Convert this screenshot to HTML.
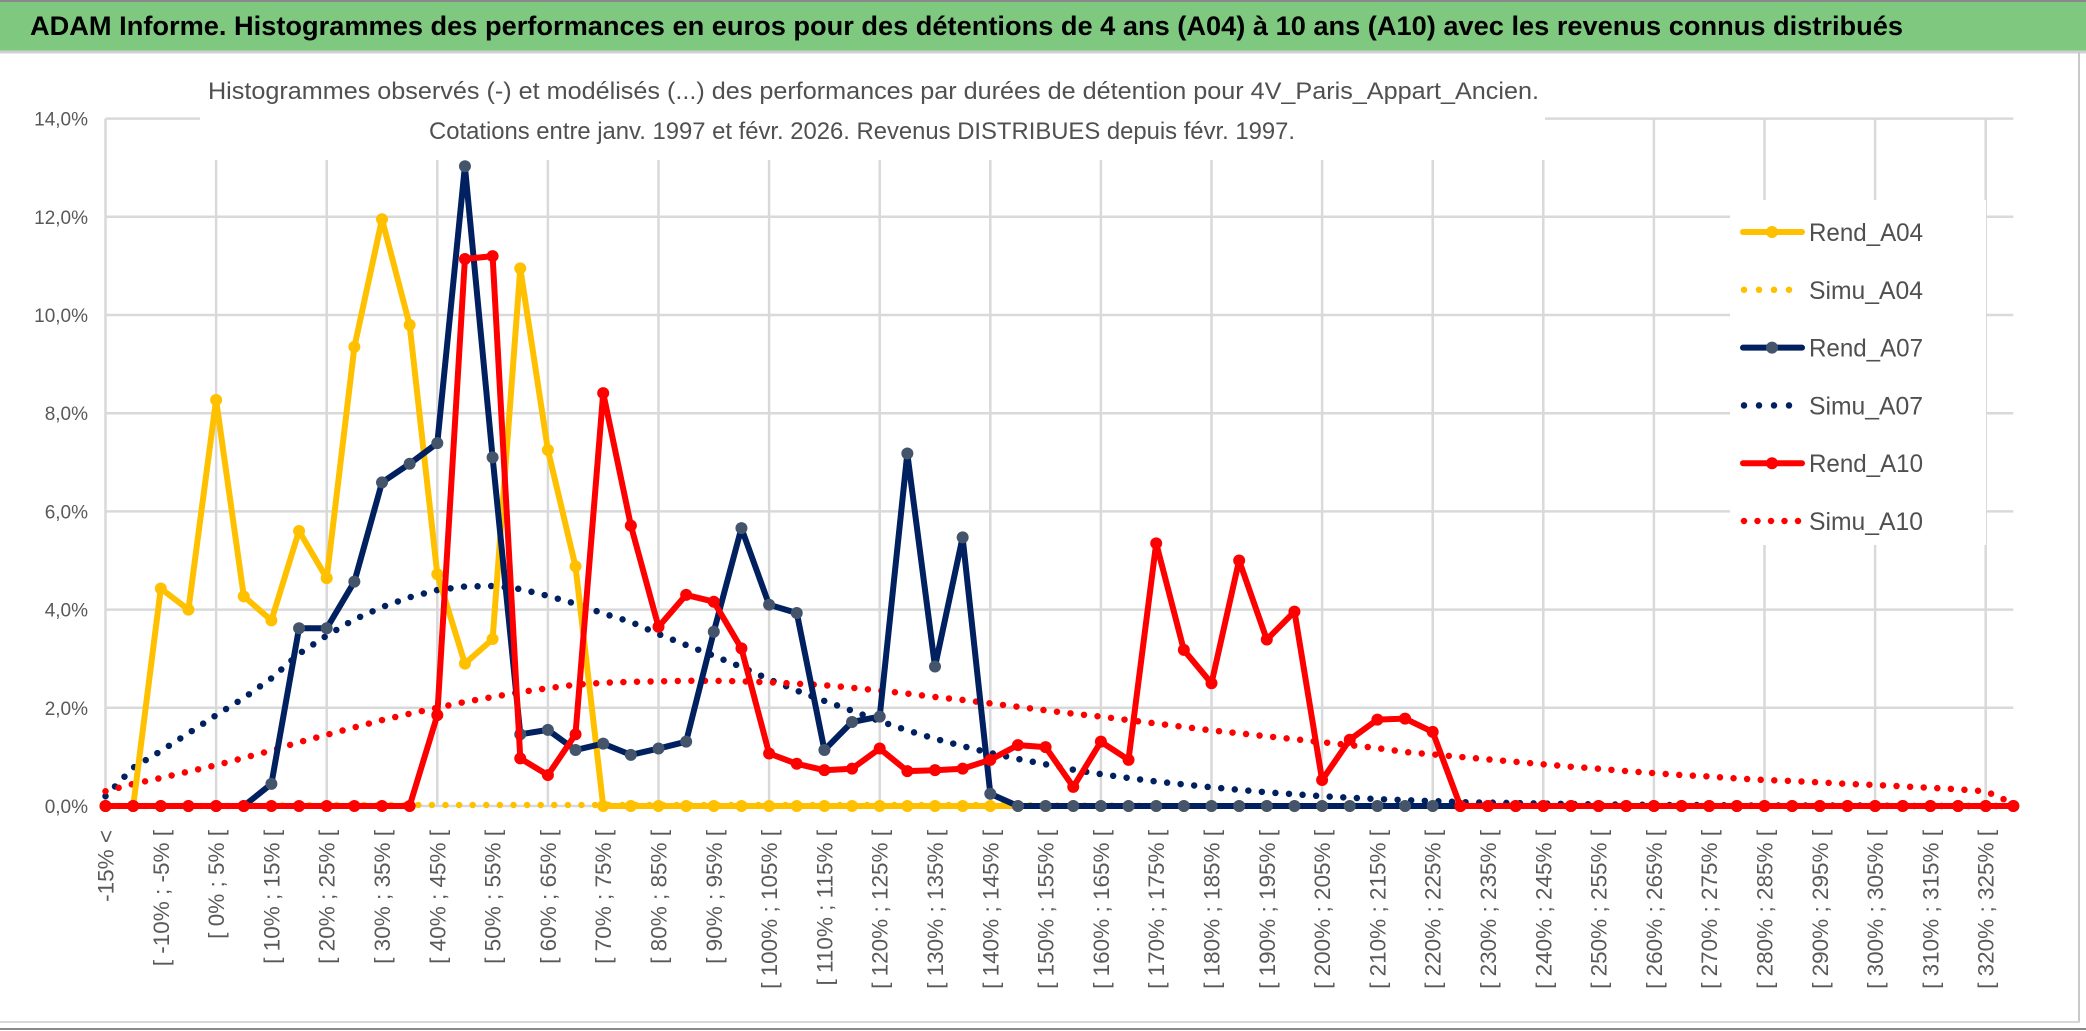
<!DOCTYPE html>
<html><head><meta charset="utf-8"><style>
html,body{margin:0;padding:0;background:#fff;}
svg{display:block;font-family:"Liberation Sans",sans-serif;}
</style></head><body>
<svg id="chart" width="2086" height="1031" viewBox="0 0 2086 1031" xmlns="http://www.w3.org/2000/svg">
<rect x="0" y="0" width="2086" height="1031" fill="#fff"/>
<rect x="0" y="0" width="2086" height="51" fill="#7ec97f"/>
<line x1="0" y1="1" x2="2086" y2="1" stroke="#8a8a8a" stroke-width="2"/>
<line x1="0" y1="52" x2="2086" y2="52" stroke="#d0d0d0" stroke-width="3"/>
<text x="30" y="35" font-size="27" font-weight="bold" fill="#000" textLength="1873" lengthAdjust="spacingAndGlyphs">ADAM Informe. Histogrammes des performances en euros pour des détentions de 4 ans (A04) à 10 ans (A10) avec les revenus connus distribués</text>
<line x1="2079" y1="52" x2="2079" y2="1023" stroke="#c8c8c8" stroke-width="2"/>
<line x1="0" y1="1022" x2="2080" y2="1022" stroke="#d8d8d8" stroke-width="2"/>
<line x1="0" y1="1029" x2="2086" y2="1029" stroke="#8a8a8a" stroke-width="2"/>
<g id="grid"></g>
<g id="yaxis"></g>
<g id="xaxis"></g>
<rect x="200" y="60" width="1345" height="100" fill="#fff"/>
<text x="208" y="99" font-size="24" fill="#505050" textLength="1331" lengthAdjust="spacingAndGlyphs">Histogrammes observés (-) et modélisés (...) des performances par durées de détention pour 4V_Paris_Appart_Ancien.</text>
<text x="429" y="139" font-size="24" fill="#505050" textLength="866" lengthAdjust="spacingAndGlyphs">Cotations entre janv. 1997 et févr. 2026. Revenus DISTRIBUES depuis févr. 1997.</text>
<g id="series"></g>
<g id="legend"></g>
</svg>
<script>
const categories = ["-15% <"];
for (let k = 1; k < 70; k++) { const a = -15 + 5 * (k - 1); categories.push("[ " + a + "% ; " + (a + 5) + "% ["); }
const rendA04 = [0,0,4.43,4.0,8.27,4.27,3.78,5.6,4.64,9.35,11.95,9.8,4.72,2.9,3.4,10.95,7.25,4.88,0,0,0,0,0,0,0,0,0,0,0,0,0,0,0,0,0,0,0,0,0,0,0,0,0,0,0,0,0,0,0,0,0,0,0,0,0,0,0,0,0,0,0,0,0,0,0,0,0,0,0,0];
const rendA07 = [0,0,0,0,0,0,0.45,3.62,3.62,4.57,6.59,6.97,7.39,13.03,7.1,1.46,1.55,1.14,1.27,1.04,1.17,1.31,3.55,5.66,4.1,3.93,1.14,1.71,1.82,7.18,2.84,5.47,0.25,0,0,0,0,0,0,0,0,0,0,0,0,0,0,0,0,0,0,0,0,0,0,0,0,0,0,0,0,0,0,0,0,0,0,0,0,0];
const rendA10 = [0,0,0,0,0,0,0,0,0,0,0,0,1.85,11.14,11.2,0.97,0.63,1.46,8.41,5.71,3.65,4.3,4.16,3.21,1.07,0.86,0.73,0.76,1.17,0.71,0.73,0.76,0.94,1.24,1.2,0.39,1.31,0.94,5.35,3.18,2.5,5.0,3.39,3.96,0.53,1.35,1.76,1.78,1.51,0,0,0,0,0,0,0,0,0,0,0,0,0,0,0,0,0,0,0,0,0];
const simuA04 = [0,0,0,0,0,0,0.01,0.01,0.02,0.02,0.02,0.02,0.02,0.02,0.02,0.02,0.02,0.02,0.02,0.02,0.02,0.02,0.02,0.02,0.02,0.02,0.02,0.02,0.02,0.02,0.02,0.02,0.02,0.02,0.01,0.01,0.01,0.01,0,0,0,0,0,0,0,0,0,0,0,0,0,0,0,0,0,0,0,0,0,0,0,0,0,0,0,0,0,0,0,0];
const simuA07 = [0.2,0.78,1.12,1.48,1.85,2.2,2.6,3.1,3.47,3.8,4.05,4.25,4.4,4.47,4.48,4.42,4.28,4.12,3.92,3.75,3.5,3.28,3.06,2.83,2.58,2.35,2.14,1.94,1.73,1.54,1.37,1.22,1.08,0.96,0.85,0.74,0.65,0.57,0.5,0.44,0.38,0.33,0.28,0.24,0.2,0.17,0.14,0.12,0.1,0.08,0.07,0.06,0.05,0.04,0.03,0.03,0.02,0.02,0.02,0.01,0.01,0.01,0.01,0.01,0.01,0,0,0,0,0];
const simuA10 = [0.3,0.45,0.57,0.7,0.83,0.98,1.13,1.3,1.45,1.6,1.75,1.88,2.0,2.12,2.22,2.32,2.4,2.47,2.51,2.53,2.54,2.55,2.55,2.54,2.52,2.49,2.46,2.41,2.35,2.29,2.22,2.16,2.09,2.02,1.95,1.88,1.82,1.75,1.68,1.61,1.54,1.48,1.42,1.36,1.3,1.24,1.18,1.1,1.05,1.0,0.95,0.9,0.85,0.8,0.76,0.71,0.67,0.63,0.6,0.56,0.53,0.51,0.48,0.45,0.43,0.4,0.37,0.34,0.3,0.05];
const yTicks = [0,2,4,6,8,10,12,14];
const yTickLabels = ["0,0%","2,0%","4,0%","6,0%","8,0%","10,0%","12,0%","14,0%"];

const NS = "http://www.w3.org/2000/svg";
const X0 = 105.5, DX = 27.65, Y0 = 806, PY = 49.1;
function xs(i){ return X0 + i * DX; }
function ys(v){ return Y0 - v * PY; }
function mk(tag, attrs, parent){ const e = document.createElementNS(NS, tag); for (const k in attrs) e.setAttribute(k, attrs[k]); parent.appendChild(e); return e; }

const grid = document.getElementById('grid');
const xEnd = xs(categories.length - 1);
yTicks.forEach((t) => {
  const l = mk('line', {x1: X0, x2: xEnd, y1: ys(t), y2: ys(t), stroke: '#d9d9d9', 'stroke-width': 2.5}, grid);
  
  
});
for (let i = 0; i < categories.length; i += 4) {
  const l = mk('line', {x1: xs(i), x2: xs(i), y1: ys(14), y2: ys(0), stroke: '#d9d9d9', 'stroke-width': 2.5}, grid);
  
  
}
const ya = document.getElementById('yaxis');
yTicks.forEach((t, k) => {
  const tx = mk('text', {x: 88, y: ys(t) + 7, 'font-size': 19, fill: '#595959', 'text-anchor': 'end'}, ya);
  tx.textContent = yTickLabels[k];
  
  
});
const xa = document.getElementById('xaxis');
for (let i = 0; i < categories.length - 1; i += 2) {
  const tx = mk('text', {transform: 'translate(' + (xs(i) + 8) + ',830) rotate(-90)', 'font-size': 22.5, fill: '#595959', 'text-anchor': 'end'}, xa);
  tx.textContent = categories[i];
  
  
}
const sg = document.getElementById('series');
function pts(arr){ return arr.map((v, i) => xs(i).toFixed(1) + ',' + ys(v).toFixed(1)).join(' '); }
function dotted(arr, color, name){
  const p = mk('polyline', {points: pts(arr), fill: 'none', stroke: color, 'stroke-width': 6.5, 'stroke-linecap': 'round', 'stroke-dasharray': '0 13.6'}, sg);
  
  
}
function solid(arr, color, mcolor, name){
  const p = mk('polyline', {points: pts(arr), fill: 'none', stroke: color, 'stroke-width': 6, 'stroke-linejoin': 'round'}, sg);
  
  
  arr.forEach((v, i) => {
    const c = mk('circle', {cx: xs(i), cy: ys(v), r: 6, fill: mcolor}, sg);
    
    
  });
}
dotted(simuA04, '#ffc000', 'simu-a04');
dotted(simuA07, '#002060', 'simu-a07');
dotted(simuA10, '#ff0000', 'simu-a10');
solid(rendA04, '#ffc000', '#ffc000', 'rend-a04');
solid(rendA07, '#002060', '#44546a', 'rend-a07');
solid(rendA10, '#ff0000', '#ff0000', 'rend-a10');

const lg = document.getElementById('legend');
const bg = mk('rect', {x: 1730, y: 200, width: 256, height: 345, fill: '#fff'}, lg);


const legendNames = ["Rend_A04","Simu_A04","Rend_A07","Simu_A07","Rend_A10","Simu_A10"];
const legendColors = ['#ffc000','#ffc000','#002060','#002060','#ff0000','#ff0000'];
const legendMarker = ['#ffc000', null, '#44546a', null, '#ff0000', null];
legendNames.forEach((n, k) => {
  const y = 232 + k * 57.8;
  if (legendMarker[k]) {
    const l = mk('line', {x1: 1743, x2: 1802, y1: y, y2: y, stroke: legendColors[k], 'stroke-width': 6, 'stroke-linecap': 'round'}, lg);
    
    
    const c = mk('circle', {cx: 1772, cy: y, r: 6, fill: legendMarker[k]}, lg);
    
    
  } else {
    const l = mk('line', {x1: 1744, x2: (k === 5 ? 1800 : 1790), y1: y, y2: y, stroke: legendColors[k], 'stroke-width': 6.5, 'stroke-linecap': 'round', 'stroke-dasharray': (k === 5 ? '0 13.5' : '0 15')}, lg);
    
    
  }
  const t = mk('text', {x: 1809, y: y + 9, 'font-size': 25, fill: '#505050', textLength: 114, lengthAdjust: 'spacingAndGlyphs'}, lg);
  t.textContent = n;
  
  
});
</script>
</body></html>
